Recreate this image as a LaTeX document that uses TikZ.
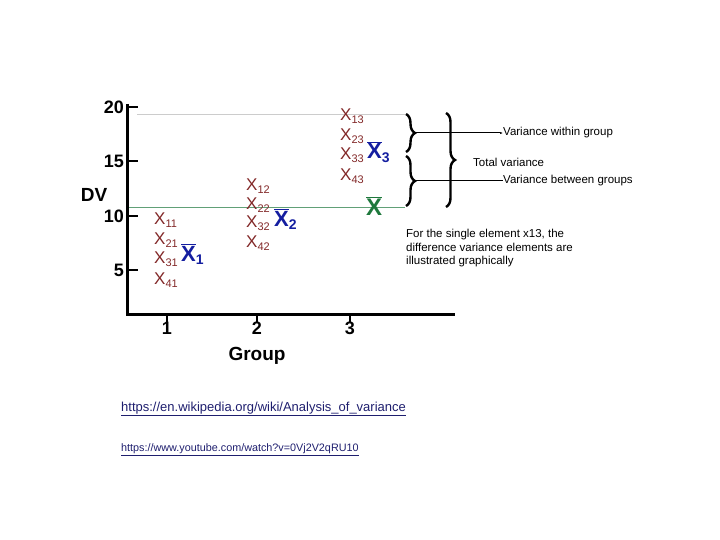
\documentclass[tikz,border=0pt]{standalone}
\usepackage{fontspec}
\setmainfont{Liberation Sans}
\usetikzlibrary{decorations.pathreplacing,arrows.meta}
\definecolor{xr}{RGB}{130,40,40}
\definecolor{xb}{RGB}{20,30,160}
\definecolor{xg}{RGB}{30,120,60}
\definecolor{url}{RGB}{30,30,110}
\tikzset{
 xe/.style={text=xr,font=\fontsize{17}{17}\selectfont,inner sep=0pt,anchor=west},
 mean/.style={font=\bfseries\fontsize{22}{22}\selectfont,inner sep=0pt,anchor=west},
 tick/.style={font=\bfseries\fontsize{18}{18}\selectfont,inner sep=1pt},
 lab/.style={font=\fontsize{11.5}{13.5}\selectfont,inner sep=0pt,anchor=west},
 br/.style={decorate,decoration={brace,amplitude=9pt},line width=2.4pt},
}
\newcommand{\xel}[1]{X\textsubscript{\fontsize{11}{11}\selectfont #1}}
\newcommand{\xbar}[1]{$\overline{\mbox{X}}$\textsubscript{\fontsize{14}{14}\selectfont #1}}
\begin{document}
\begin{tikzpicture}[x=1pt,y=-1pt]
\useasboundingbox (0,0) rectangle (720,540);
% grid lines
\draw[gray!40,line width=0.8pt] (137,114) -- (405,114);
\draw[xg!70,line width=0.8pt] (127,207) -- (405,207);
% axes
\draw[line width=3pt] (127,104) -- (127,314) -- (455,314);
\foreach \y/\t in {107/20,161/15,216/10,270/5}{
 \draw[line width=2pt] (127,\y) -- (138,\y);
 \node[tick,anchor=east] at (125,\y) {\t};}
\foreach \x/\t in {167/1,257/2,350/3}{
 \draw[line width=1.5pt] (\x,314) -- (\x,322);
 \node[tick] at (\x,328) {\t};}
\node[font=\bfseries\fontsize{19}{19}\selectfont] (dv) at (94,195) {DV};
\node[font=\bfseries\fontsize{19}{19}\selectfont] (grp) at (257,356) {Group};
% elements
\node[xe] (x11) at (154,220) {\xel{11}};
\node[xe] (x21) at (154,240) {\xel{21}};
\node[xe] (x31) at (154,259) {\xel{31}};
\node[xe] (x41) at (154,280) {\xel{41}};
\node[xe] (x12) at (246,186) {\xel{12}};
\node[xe] (x22) at (246,205) {\xel{22}};
\node[xe] (x32) at (246,223) {\xel{32}};
\node[xe] (x42) at (246,243) {\xel{42}};
\node[xe] (x13) at (340,116) {\xel{13}};
\node[xe] (x23) at (340,136) {\xel{23}};
\node[xe] (x33) at (340,155) {\xel{33}};
\node[xe] (x43) at (340,176) {\xel{43}};
\node[mean,text=xb] (m1) at (181,254) {\xbar{1}};
\node[mean,text=xb] (m2) at (274,219) {\xbar{2}};
\node[mean,text=xb] (m3) at (367,152) {\xbar{3}};
\node[mean,text=xg,font=\bfseries\fontsize{24}{24}\selectfont] (m) at (366,206) {$\overline{\mbox{X}}$};
% braces
\draw[br] (406,114) -- coordinate[xshift=10pt] (b1) (406,152);
\draw[br] (406,156) -- coordinate[xshift=10pt] (b2) (406,206);
\draw[br] (446,113) -- coordinate[xshift=10pt] (b3) (446,207);
\node[lab] (vw) at (503,133) {Variance within group};
\node[lab] (tv) at (473,162) {Total variance};
\node[lab] (vb) at (503,181) {Variance between groups};
\draw[line width=1pt,-{Latex[length=3pt]}] (b1) -- (vw.west);
\draw[line width=1pt] (b2) -- (vb.west);
\node[lab,align=left,anchor=north west] (note) at (406,229) {For the single element x13, the\\difference variance elements are\\illustrated graphically};
\node[font=\fontsize{13}{13}\selectfont,text=url,anchor=west,inner sep=0pt] (u1) at (121,409) {\underline{https://en.wikipedia.org/wiki/Analysis\_of\_variance}};
\node[font=\fontsize{10.8}{10.8}\selectfont,text=url,anchor=west,inner sep=0pt] (u2) at (121,450) {\underline{https://www.youtube.com/watch?v=0Vj2V2qRU10}};
\end{tikzpicture}
\end{document}
